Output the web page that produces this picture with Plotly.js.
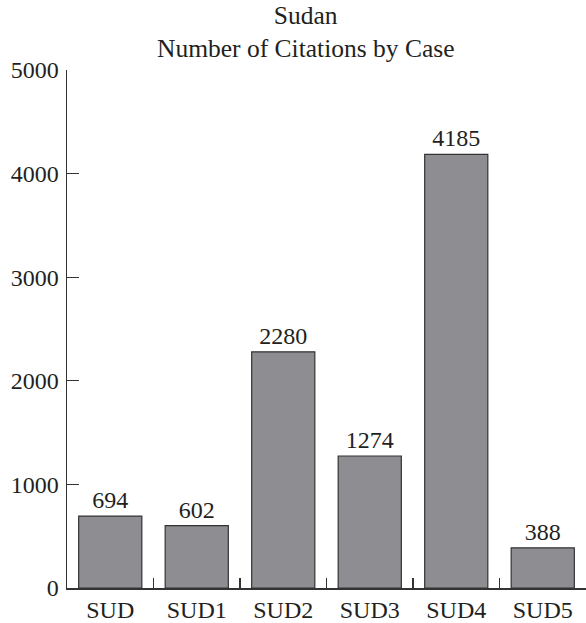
<!DOCTYPE html>
<html>
<head>
<meta charset="utf-8">
<script src="https://cdn.plot.ly/plotly-3.0.1.min.js"></script>
<style>html,body{margin:0;padding:0;background:#fff;}#chart{width:586px;height:623px;}</style>
</head>
<body>
<div id="chart"></div>
<script>
const categories = ["SUD", "SUD1", "SUD2", "SUD3", "SUD4", "SUD5"];
const citations = [694, 602, 2280, 1274, 4185, 388];
const yTicks = [0, 1000, 2000, 3000, 4000, 5000];

const font = {family: "Liberation Serif, Times New Roman, serif", size: 24, color: "#231f20"};
const titleFont = {family: "Liberation Serif, Times New Roman, serif", size: 25.5, color: "#231f20"};

const trace = {
  type: "bar",
  x: categories,
  y: citations,
  text: citations.map(String),
  textposition: "outside",
  cliponaxis: false,
  textfont: font,
  marker: {color: "#8e8e92", line: {color: "#333", width: 1.2}},
  hoverinfo: "skip"
};

const layout = {
  width: 586,
  height: 623,
  margin: {l: 67, r: 0, t: 70, b: 35},
  paper_bgcolor: "#fff",
  plot_bgcolor: "#fff",
  font: font,
  showlegend: false,
  bargap: 0.27,
  title: {
    text: "Sudan<br>Number of Citations by Case",
    font: titleFont,
    x: 0.46, xref: "paper", xanchor: "center",
    y: 0.961, yref: "container", yanchor: "middle"
  },
  xaxis: {
    type: "category",
    showline: true, linecolor: "#333", linewidth: 1.5,
    ticks: "inside", ticklen: 10, tickcolor: "#333", tickwidth: 1.2,
    tickson: "boundaries",
    showgrid: false, zeroline: false,
    tickfont: font,
    range: [-0.5, 5.5]
  },
  yaxis: {
    range: [0, 5000],
    tickvals: yTicks,
    ticktext: yTicks.map(String),
    showline: true, linecolor: "#333", linewidth: 1.5,
    ticks: "inside", ticklen: 12, tickcolor: "#333", tickwidth: 1.2,
    showgrid: false, zeroline: false,
    tickfont: font,
    ticklabelstandoff: 2
  }
};

Plotly.newPlot("chart", [trace], layout, {staticPlot: true, displayModeBar: false});
</script>
</body>
</html>
